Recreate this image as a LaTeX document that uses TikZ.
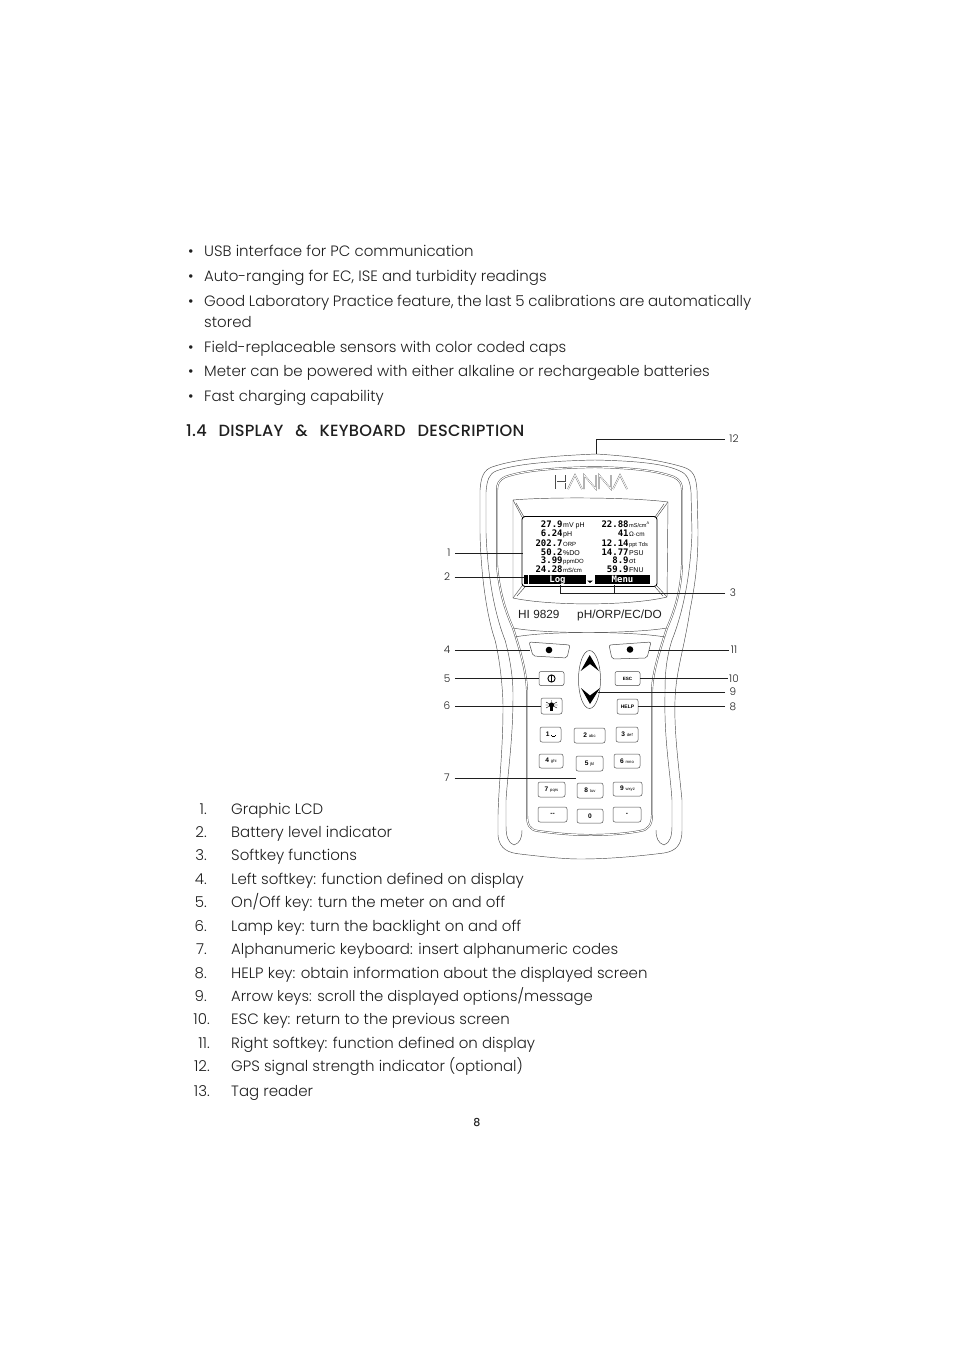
\documentclass[tikz,border=0pt]{standalone}
\usepackage{fontspec}
\setmainfont{Poppins}[UprightFont=* Light,BoldFont=* Medium]
\newfontfamily\lblfont{Liberation Sans}
\newfontfamily\lcdfont{DejaVu Sans Mono}[UprightFont=* Bold]
\usetikzlibrary{positioning,shapes.geometric}
\definecolor{pInk}{gray}{0.12}
\definecolor{pLine}{gray}{0.3}
\tikzset{
    body/.style={anchor=base west, inner sep=0pt, text=pInk, font=\fontsize{15}{17}\selectfont},
    numb/.style={anchor=base east, inner sep=0pt, text=pInk, font=\fontsize{15}{17}\selectfont},
    callnum/.style={inner sep=1.5pt, text=pInk, font=\fontsize{10.5}{12}\selectfont},
    calline/.style={line width=0.7pt, pInk},
    shell/.style={line width=0.45pt, pLine},
    numkey/.style={rectangle, rounded corners=2pt, draw=pLine, line width=0.5pt, inner sep=0pt, text=black, font=\lblfont\fontsize{6.6}{7}\selectfont\bfseries},
    softkey/.style={rounded corners=2pt, draw=pLine, line width=0.5pt},
    lcdtxt/.style={anchor=base west, inner sep=0pt, text=black, font=\lblfont\fontsize{7}{8}\selectfont},
    logo/.style={line width=0.25pt, double=white, double distance=0.9pt, pLine}
}
\newcommand{\lcdval}[1]{\llap{\lcdfont\fontsize{9}{10}\selectfont #1\kern0.6pt}}
\newcommand{\keytag}[1]{\;{\fontsize{4.2}{5}\selectfont\mdseries #1}}

\begin{document}
\begin{tikzpicture}[x=1pt,y=-1pt]
\useasboundingbox (0,0) rectangle (954,1351);
\node[body] (d1) at (188,256) {•};
\node[body] (d2) at (188,281) {•};
\node[body] (d3) at (188,306) {•};
\node[body] (d4) at (188,352) {•};
\node[body] (d5) at (188,376) {•};
\node[body] (d6) at (188,401) {•};
\node[body] (usb) at (204,256) {USB interface for PC communication};
\node[body] (auto) at (204,281) {Auto-ranging for EC, ISE and turbidity readings};
\node[body] (glp) at (204,306) {\makebox[547pt][s]{Good Laboratory Practice feature, the last 5 calibrations are automatically}};
\node[body] (stored) at (204,327) {stored};
\node[body] (field) at (204,352) {Field-replaceable sensors with color coded caps};
\node[body] (meter) at (204,376) {Meter can be powered with either alkaline or rechargeable batteries};
\node[body] (fast) at (204,401) {Fast charging capability};
\node[body, font=\fontsize{16.2}{18}\selectfont\bfseries] (head) at (186,436) {\addfontfeatures{LetterSpace=1.5}\makebox[338pt][s]{1.4 DISPLAY \& KEYBOARD DESCRIPTION}};
\node[numb] (n1) at (207,814) {1.};
\node[numb] (n2) at (207,837) {2.};
\node[numb] (n3) at (207,860) {3.};
\node[numb] (n4) at (207,884) {4.};
\node[numb] (n5) at (207,907) {5.};
\node[numb] (n6) at (207,931) {6.};
\node[numb] (n7) at (207,954) {7.};
\node[numb] (n8) at (207,978) {8.};
\node[numb] (n9) at (207,1001) {9.};
\node[numb] (n10) at (210,1024) {10.};
\node[numb] (n11) at (210,1048) {11.};
\node[numb] (n12) at (210,1071) {12.};
\node[numb] (n13) at (210,1096) {13.};
\node[body] (t1) at (231,814) {Graphic LCD};
\node[body] (t2) at (231,837) {Battery level indicator};
\node[body] (t3) at (231,860) {Softkey functions};
\node[body] (t4) at (231,884) {Left softkey: function defined on display};
\node[body] (t5) at (231,907) {On/Off key: turn the meter on and off};
\node[body] (t6) at (231,931) {Lamp key: turn the backlight on and off};
\node[body] (t7) at (231,954) {Alphanumeric keyboard: insert alphanumeric codes};
\node[body] (t8) at (231,978) {HELP key: obtain information about the displayed screen};
\node[body, font=\fontsize{14.8}{17}\selectfont] (t9) at (231,1001) {Arrow keys: scroll the displayed options/message};
\node[body] (t10) at (231,1024) {ESC key: return to the previous screen};
\node[body] (t11) at (231,1048) {Right softkey: function defined on display};
\node[body] (t12) at (231,1071) {GPS signal strength indicator (optional)};
\node[body] (t13) at (231,1096) {Tag reader};
\node[anchor=base, inner sep=0pt, text=pInk, font=\fontsize{11}{12}\selectfont\bfseries] (page) at (477,1126) {8};
\draw[shell] (596,454) .. controls (550,456) and (515,459) .. (492,467) .. controls (484,470) and (481,476) .. (480,490) -- (480,533) .. controls (481,580) and (488,620) .. (495,640) .. controls (500,660) and (503,690) .. (503,707) .. controls (503,750) and (499,780) .. (498,815) -- (498,835) .. controls (499,850) and (510,853) .. (520,854) .. controls (545,857) and (565,859) .. (580,859) .. controls (610,859) and (640,856) .. (664,853) .. controls (676,851) and (682,845) .. (682,830) -- (682,800) .. controls (678,760) and (674,730) .. (675,700) .. controls (676,670) and (684,650) .. (690,610) .. controls (696,580) and (698,560) .. (698,530) -- (697,490) .. controls (696,476) and (693,470) .. (683,467) .. controls (660,460) and (630,456) .. (596,454) -- cycle;
\draw[shell] (595,460) .. controls (550,461) and (515,464) .. (496,471) .. controls (489,474) and (487,480) .. (486,492) -- (486,533) .. controls (488,585) and (497,620) .. (505,640) .. controls (511,662) and (513,680) .. (513,695) .. controls (513,740) and (508,770) .. (506,800) -- (506,826) .. controls (506,836) and (508,843) .. (514,845);
\draw[shell] (514,845) .. controls (520,843) and (522,838) .. (522,830);
\draw[shell] (595,460) .. controls (640,461) and (665,464) .. (680,471) .. controls (687,474) and (690,480) .. (691,492) -- (692,533) .. controls (690,585) and (680,620) .. (672,640) .. controls (665,662) and (665,680) .. (665,695) .. controls (664,740) and (670,770) .. (672,800) -- (672,826) .. controls (672,836) and (670,843) .. (664,845);
\draw[shell] (664,845) .. controls (658,843) and (656,838) .. (656,830);
\draw[shell, double=white, double distance=1pt] (595,467) .. controls (555,468) and (525,470) .. (505,477) .. controls (499,480) and (497,484) .. (497,490) -- (497,565) .. controls (499,590) and (505,610) .. (513,628) .. controls (520,650) and (526,670) .. (527,690) -- (527,815) .. controls (527,825) and (530,830) .. (538,831) .. controls (560,834) and (575,835) .. (590,835) .. controls (605,835) and (625,834) .. (640,831) .. controls (648,830) and (652,825) .. (652,815) -- (652,690) .. controls (653,670) and (660,650) .. (667,628) .. controls (675,610) and (681,590) .. (682,565) -- (682,490) .. controls (682,484) and (680,480) .. (674,477) .. controls (655,470) and (630,468) .. (595,467) -- cycle;
\draw[shell] (513,628) .. controls (545,634) and (630,634) .. (667,628);
\draw[shell] (515,637) .. controls (545,631) and (630,631) .. (665,637);
\draw[shell] (513,500) .. controls (545,497) and (630,497) .. (668,502) -- (667,597) .. controls (630,606) and (550,606) .. (513,598) -- cycle;
\draw[shell] (513,500) -- (522,517);
\draw[shell] (516,503) -- (524,517);
\draw[shell] (668,502) -- (657,517);
\draw[shell] (664,504) -- (655,517);
\draw[shell] (513,598) -- (522,586);
\draw[shell] (517,596) -- (525,587);
\draw[shell] (667,597) -- (657,586);
\draw[shell] (663,596) -- (655,587);
\draw[logo] (556,475)--(556,489) (566,475)--(566,489) (556,482)--(566,482);
\draw[logo] (568,489)--(575,475)--(582,489);
\draw[logo] (584,489)--(584,475)--(596,489)--(596,475);
\draw[logo] (599,489)--(599,475)--(611,489)--(611,475);
\draw[logo] (613,489)--(620,475)--(627,489);
\node[draw=black, line width=0.9pt, rounded corners=3pt, fill=white, minimum width=135pt, minimum height=70pt, inner sep=0pt] (lcd) at (589.5,551.5) {};
\node[lcdtxt] (a1) at (563,527) {\lcdval{27.9}mV pH};
\node[lcdtxt] (a2) at (563,536) {\lcdval{6.24}pH};
\node[lcdtxt] (a3) at (563,546) {\lcdval{202.7}\fontsize{6}{7}\selectfont ORP};
\node[lcdtxt] (a4) at (563,555) {\lcdval{50.2}\%DO};
\node[lcdtxt] (a5) at (563,563.5) {\lcdval{3.99}\fontsize{6}{7}\selectfont ppmDO};
\node[lcdtxt] (a6) at (563,572) {\lcdval{24.28}\fontsize{6}{7}\selectfont mS/cm};
\node[lcdtxt] (b1) at (629,527) {\lcdval{22.88}\fontsize{5.6}{7}\selectfont mS/cm\textsuperscript{A}};
\node[lcdtxt] (b2) at (629,536) {\lcdval{41}\fontsize{6.4}{7}\selectfont Ω·cm};
\node[lcdtxt] (b3) at (629,546) {\lcdval{12.14}\fontsize{5.6}{7}\selectfont ppt Tds};
\node[lcdtxt] (b4) at (629,555) {\lcdval{14.77}PSU};
\node[lcdtxt] (b5) at (629,563.5) {\lcdval{8.9}σt};
\node[lcdtxt] (b6) at (629,572) {\lcdval{59.9}FNU};
\node[fill=black, minimum width=4pt, minimum height=9.5pt, inner sep=0pt] (batt) at (526,579.7) {};
\node[fill=black, text=white, minimum width=57pt, minimum height=9.5pt, inner sep=0pt, font=\lcdfont\fontsize{9}{10}\selectfont] (logbar) at (557.5,579.7) {Log};
\node[fill=black, text=white, minimum width=55pt, minimum height=9.5pt, inner sep=0pt, font=\lcdfont\fontsize{9}{10}\selectfont] (menubar) at (622.5,579.7) {Menu};
\fill[black] (587,580.5) -- (593,580.5) -- (590,583) -- cycle;
\node[anchor=base west, inner sep=0pt, text=pInk, font=\lblfont\fontsize{11.8}{13}\selectfont] (model) at (518,618) {HI 9829};
\node[anchor=base west, inner sep=0pt, text=pInk, font=\lblfont\fontsize{11.8}{13}\selectfont] (range) at (577,618) {pH/ORP/EC/DO};
\draw[softkey] (529,642) -- (570,645) -- (567,658) -- (533,656) -- cycle;
\draw[softkey] (609,645) -- (651,642) -- (647,658) -- (612,659) -- cycle;
\fill[black] (549,650) circle (3.3);
\fill[black] (630,649.5) circle (3.3);
\node[numkey, minimum width=25pt, minimum height=14pt] (power) at (551.5,678.5) {};
\draw[black, line width=0.9pt] (power) circle (3.6);
\draw[black, line width=0.9pt] (551.5,675) -- (551.5,682);
\node[numkey, minimum width=21pt, minimum height=16pt] (lamp) at (551.5,706) {};
\fill[black] (551.5,705) circle (2.6);
\fill[black] (550.3,705) rectangle (552.7,711);
\draw[black, line width=0.4pt] (546,702)--(557,708) (546,708)--(557,702) (551.5,700)--(551.5,703) (545.5,705)--(557.5,705);
\node[numkey, minimum width=25pt, minimum height=14pt] (esc) at (627.5,678.5) {\fontsize{4.6}{5}\selectfont ESC};
\node[numkey, minimum width=21pt, minimum height=15pt] (help) at (627.5,706.5) {\fontsize{5}{5}\selectfont HELP};
\node[ellipse, draw=pLine, line width=0.5pt, minimum width=22pt, minimum height=58pt, inner sep=0pt] (pod) at (589.5,679.5) {};
\fill[black] (589.7,655) -- (599,671) -- (590,664) -- (580.7,671) -- cycle;
\fill[black] (590,704) -- (600,688) -- (590,695.5) -- (581,688) -- cycle;
\node[numkey, minimum width=21pt, minimum height=15pt] (k1) at (550.5,734.5) {1\;\raisebox{0.3pt}{\rule{0.4pt}{1.5pt}\rule{3pt}{0.4pt}\rule{0.4pt}{1.5pt}}};
\node[numkey, minimum width=31pt, minimum height=15pt] (k2) at (589.5,735.5) {2\keytag{abc}};
\node[numkey, minimum width=22pt, minimum height=15pt] (k3) at (627,734.5) {3\keytag{def}};
\node[numkey, minimum width=24pt, minimum height=14pt] (k4) at (551,761) {4\keytag{ghi}};
\node[numkey, minimum width=27pt, minimum height=15pt] (k5) at (589.5,763.5) {5\keytag{jkl}};
\node[numkey, minimum width=26pt, minimum height=14pt] (k6) at (627,761) {6\keytag{mno}};
\node[numkey, minimum width=27pt, minimum height=15pt] (k7) at (551.5,789.5) {7\keytag{pqrs}};
\node[numkey, minimum width=26pt, minimum height=15pt] (k8) at (590,790.5) {8\keytag{tuv}};
\node[numkey, minimum width=29pt, minimum height=14pt] (k9) at (627.5,789) {9\keytag{wxyz}};
\node[numkey, minimum width=29pt, minimum height=15pt] (kdash) at (552.5,814.5) {--};
\node[numkey, minimum width=26pt, minimum height=14pt] (k0) at (590,816) {0};
\node[numkey, minimum width=28pt, minimum height=15pt] (kdot) at (627,814.5) {-};
\coordinate (softle) at (530,650);
\coordinate (softrw) at (649,650);
\coordinate (lcdl) at (523,553);
\coordinate (keys) at (576,778);
\coordinate (podr) at (598,692);
\coordinate (topmark) at (596,454);
\coordinate (logstem) at (560,584.5);
\coordinate (menustem) at (614,584.5);
\node[callnum] (l1) at (449,553) {1};
\node[callnum] (l2) at (447,577) {2};
\node[callnum] (l3) at (733,593) {3};
\node[callnum] (l4) at (447,650) {4};
\node[callnum] (l5) at (447,678.5) {5};
\node[callnum] (l6) at (447,706) {6};
\node[callnum] (l7) at (447,778) {7};
\node[callnum] (l8) at (733,706.5) {8};
\node[callnum] (l9) at (733,692) {9};
\node[callnum] (l10) at (734,678.5) {10};
\node[callnum] (l11) at (734,650) {11};
\node[callnum] (l12) at (734,439) {12};
\draw[calline] ([xshift=3pt]l1.east) -- (lcdl);
\draw[calline] ([xshift=3pt]l2.east) -- (batt.north west |- l2);
\draw[calline] ([xshift=-3pt]l3.west) -| (logstem);
\draw[calline] (menustem) -- (menustem |- l3);
\draw[calline] ([xshift=3pt]l4.east) -- (softle);
\draw[calline] ([xshift=3pt]l5.east) -- (power);
\draw[calline] ([xshift=3pt]l6.east) -- (lamp);
\draw[calline] ([xshift=3pt]l7.east) -- (keys);
\draw[calline] ([xshift=-3pt]l8.west) -- (help);
\draw[calline] ([xshift=-3pt]l9.west) -- (podr);
\draw[calline] (l10) -- (esc);
\draw[calline] (l11) -- (softrw);
\draw[calline] ([xshift=-3pt]l12.west) -| (topmark);
\end{tikzpicture}
\end{document}
